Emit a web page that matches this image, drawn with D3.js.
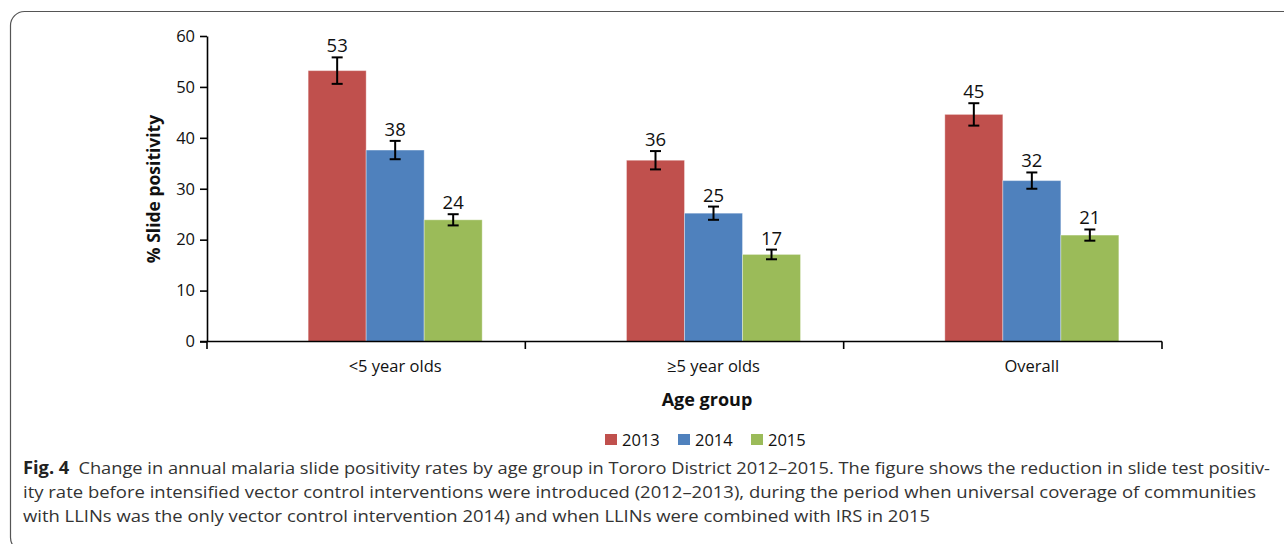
<!DOCTYPE html>
<html>
<head>
<meta charset="utf-8">
<script src="https://cdn.jsdelivr.net/npm/d3@7"></script>
<style>
  html, body { margin: 0; padding: 0; background: #fff; }
  svg { display: block; }
</style>
</head>
<body>
<svg id="chart" width="1284" height="544"></svg>
<script>
// Age groups on the x axis
const categories = ["<5 year olds", "\u22655 year olds", "Overall"];
// Year slots within each group; 2012 has no bar but keeps its slot
const slots = ["2012", "2013", "2014", "2015"];
const years = ["2013", "2014", "2015"];
const colors = ["#C0504D", "#4F81BD", "#9BBB59"];

// Slide positivity (%) per year, one value per age group
const values2013 = [53.2, 35.6, 44.6];
const values2014 = [37.6, 25.2, 31.6];
const values2015 = [23.9, 17.1, 20.9];
// Half-width of the error bars
const err2013 = [2.6, 1.8, 2.2];
const err2014 = [1.8, 1.3, 1.6];
const err2015 = [1.1, 0.95, 1.1];

const yTicks = [0, 10, 20, 30, 40, 50, 60];

const captionBold = "Fig. 4";
const captionLines = [
  "Change in annual malaria slide positivity rates by age group in Tororo District 2012\u20132015. The figure shows the reduction in slide test positiv-",
  "ity rate before intensified vector control interventions were introduced (2012\u20132013), during the period when universal coverage of communities",
  "with LLINs was the only vector control intervention 2014) and when LLINs were combined with IRS in 2015"
];

const series = [
  { year: years[0], color: colors[0], values: values2013, err: err2013 },
  { year: years[1], color: colors[1], values: values2014, err: err2014 },
  { year: years[2], color: colors[2], values: values2015, err: err2015 }
];

const svg = d3.select("#chart");
const font = "'Open Sans', 'DejaVu Sans', sans-serif";

// Panel frame with rounded corners
svg.append("rect")
  .attr("x", 10.5).attr("y", 11.5)
  .attr("width", 1300).attr("height", 540)
  .attr("rx", 14).attr("ry", 14)
  .attr("fill", "none")
  .attr("stroke", "#555")
  .attr("stroke-width", 1.2);

const x0 = d3.scaleBand().domain(categories).range([207, 1162]).padding(0);
const x1 = d3.scaleBand().domain(slots).range([0, x0.bandwidth()])
  .paddingInner(0).paddingOuter(0.744);
const y = d3.scaleLinear().domain([0, 60]).range([341.5, 36]);

// Bars
const groups = svg.append("g").selectAll("g")
  .data(series).join("g");

groups.selectAll("rect")
  .data(s => s.values.map((v, i) => ({ v, i, s })))
  .join("rect")
  .attr("x", d => x0(categories[d.i]) + x1(d.s.year))
  .attr("y", d => y(d.v))
  .attr("width", x1.bandwidth())
  .attr("height", d => y(0) - y(d.v))
  .attr("fill", d => d.s.color)
  .attr("stroke", "rgba(255,255,255,0.35)")
  .attr("stroke-width", 1);

// Error bars
const eb = svg.append("g").attr("stroke", "#000").attr("stroke-width", 2);
series.forEach(s => {
  s.values.forEach((v, i) => {
    const cx = x0(categories[i]) + x1(s.year) + x1.bandwidth() / 2;
    const top = y(v + s.err[i]);
    const bot = y(v - s.err[i]);
    eb.append("line").attr("x1", cx).attr("x2", cx).attr("y1", top).attr("y2", bot);
    eb.append("line").attr("x1", cx - 5.5).attr("x2", cx + 5.5).attr("y1", top).attr("y2", top);
    eb.append("line").attr("x1", cx - 5.5).attr("x2", cx + 5.5).attr("y1", bot).attr("y2", bot);
  });
});

// Value labels above error bars
const fmt = d3.format(".0f");
series.forEach(s => {
  s.values.forEach((v, i) => {
    const cx = x0(categories[i]) + x1(s.year) + x1.bandwidth() / 2;
    svg.append("text")
      .attr("x", cx)
      .attr("y", y(v + s.err[i]) - 5)
      .attr("text-anchor", "middle")
      .attr("font-family", font)
      .attr("font-size", 18.5)
      .attr("fill", "#111")
      .text(fmt(v));
  });
});

// Y axis
const yAxis = svg.append("g")
  .attr("transform", "translate(207,0)")
  .call(d3.axisLeft(y).tickValues(yTicks).tickSize(7).tickPadding(5).tickSizeOuter(0));
yAxis.select(".domain").attr("stroke", "#000").attr("stroke-width", 1.6);
yAxis.selectAll(".tick line").attr("stroke", "#000").attr("stroke-width", 1.6);
yAxis.selectAll(".tick text")
  .attr("font-family", font).attr("font-size", 16.5).attr("fill", "#111");

// X axis: ticks at group boundaries, labels centred under the bars
const bounds = categories.map(c => x0(c)).concat([x0.range()[1]]);
const xAxis = svg.append("g").attr("stroke", "#000").attr("stroke-width", 1.6);
xAxis.append("line")
  .attr("x1", 200).attr("x2", 1162)
  .attr("y1", y(0)).attr("y2", y(0));
bounds.forEach(b => {
  xAxis.append("line")
    .attr("x1", b).attr("x2", b)
    .attr("y1", y(0)).attr("y2", y(0) + 7.5);
});

categories.forEach(c => {
  const cx = x0(c) + x1("2014") + x1.bandwidth() / 2;
  svg.append("text")
    .attr("x", cx).attr("y", 372)
    .attr("text-anchor", "middle")
    .attr("font-family", font)
    .attr("font-size", 16.5)
    .attr("fill", "#111")
    .text(c);
});

// Axis titles
svg.append("text")
  .attr("x", 707).attr("y", 406)
  .attr("text-anchor", "middle")
  .attr("font-family", font)
  .attr("font-weight", "bold")
  .attr("font-size", 18)
  .attr("fill", "#111")
  .text("Age group");

svg.append("text")
  .attr("transform", "translate(160,189) rotate(-90)")
  .attr("text-anchor", "middle")
  .attr("font-family", font)
  .attr("font-weight", "bold")
  .attr("font-size", 17.5)
  .attr("fill", "#111")
  .text("% Slide positivity");

// Legend
const legendX = [605, 678, 751];
const legend = svg.append("g");
series.forEach((s, i) => {
  legend.append("rect")
    .attr("x", legendX[i]).attr("y", 434)
    .attr("width", 12).attr("height", 11)
    .attr("fill", s.color);
  legend.append("text")
    .attr("x", legendX[i] + 17).attr("y", 445.5)
    .attr("font-family", font)
    .attr("font-size", 16.5)
    .attr("fill", "#111")
    .text(s.year);
});

// Caption
const capFont = "'Open Sans', 'Noto Sans', sans-serif";
const capX = 23;
const capWidths = [1247, 1233, 907];
const capBase = [474, 498, 522];
captionLines.forEach((line, i) => {
  const t = svg.append("text")
    .attr("x", capX).attr("y", capBase[i])
    .attr("font-family", capFont)
    .attr("font-size", 17)
    .attr("fill", "#333")
    .attr("textLength", capWidths[i])
    .attr("lengthAdjust", "spacingAndGlyphs");
  if (i === 0) {
    t.append("tspan").attr("font-weight", "bold").attr("fill", "#222").text(captionBold + "\u2002");
  }
  t.append("tspan").text(line);
});
</script>
</body>
</html>
